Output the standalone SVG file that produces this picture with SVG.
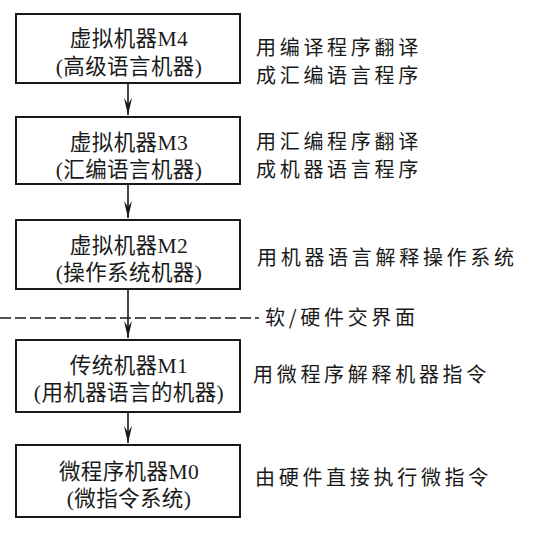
<svg xmlns="http://www.w3.org/2000/svg" width="537" height="542" viewBox="0 0 537 542">
<style>
.box{fill:#fff;stroke:#1a1a1a;stroke-width:2}
.bt{font-family:"Liberation Serif","Noto Sans CJK SC",serif;font-size:21.5px;letter-spacing:0.4px;fill:#1a1a1a;text-anchor:middle}
.rt{font-family:"Noto Sans CJK SC",sans-serif;font-size:20px;letter-spacing:3.7px;fill:#1a1a1a}
.ln{stroke:#1a1a1a;stroke-width:1.6;fill:none}
</style>
<defs>
<marker id="ah" markerWidth="18" markerHeight="10" refX="17" refY="4" orient="auto" markerUnits="userSpaceOnUse" viewBox="0 0 18 8">
<path d="M0,0 L17,4 L0,8 L6,4 Z" fill="#1a1a1a"/>
</marker>
</defs>
<rect width="537" height="542" fill="#fff"/>
<g id="connectors">
<line class="ln" x1="128" y1="83" x2="128" y2="115" marker-end="url(#ah)"/>
<line class="ln" x1="128" y1="184" x2="128" y2="218" marker-end="url(#ah)"/>
<line class="ln" x1="128" y1="289" x2="128" y2="338" marker-end="url(#ah)"/>
<line class="ln" x1="128" y1="412" x2="128" y2="443" marker-end="url(#ah)"/>
</g>
<g id="boundary">
<line x1="0" y1="318" x2="259" y2="318" stroke="#1a1a1a" stroke-width="1.6" stroke-dasharray="11,4"/>
<text class="rt" x="265" y="325">软/硬件交界面</text>
</g>
<g id="m4">
<rect class="box" x="16" y="14" width="224" height="69"/>
<text class="bt" x="129" y="46">虚拟机器M4</text>
<text class="bt" x="129" y="74">(高级语言机器)</text>
</g>
<g id="m3">
<rect class="box" x="16" y="117" width="224" height="67"/>
<text class="bt" x="129" y="150">虚拟机器M3</text>
<text class="bt" x="129" y="177">(汇编语言机器)</text>
</g>
<g id="m2">
<rect class="box" x="16" y="220" width="224" height="69"/>
<text class="bt" x="129" y="253">虚拟机器M2</text>
<text class="bt" x="129" y="280">(操作系统机器)</text>
</g>
<g id="m1">
<rect class="box" x="16" y="340" width="224" height="72"/>
<text class="bt" x="129" y="373">传统机器M1</text>
<text class="bt" x="129" y="400">(用机器语言的机器)</text>
</g>
<g id="m0">
<rect class="box" x="16" y="445" width="224" height="72"/>
<text class="bt" x="129" y="479">微程序机器M0</text>
<text class="bt" x="129" y="506">(微指令系统)</text>
</g>
<g id="labels">
<text class="rt" x="256" y="55">用编译程序翻译</text>
<text class="rt" x="256" y="83">成汇编语言程序</text>
<text class="rt" x="256" y="149">用汇编程序翻译</text>
<text class="rt" x="256" y="177">成机器语言程序</text>
<text class="rt" x="257" y="265">用机器语言解释操作系统</text>
<text class="rt" x="253" y="382">用微程序解释机器指令</text>
<text class="rt" x="255" y="485">由硬件直接执行微指令</text>
</g>
</svg>
